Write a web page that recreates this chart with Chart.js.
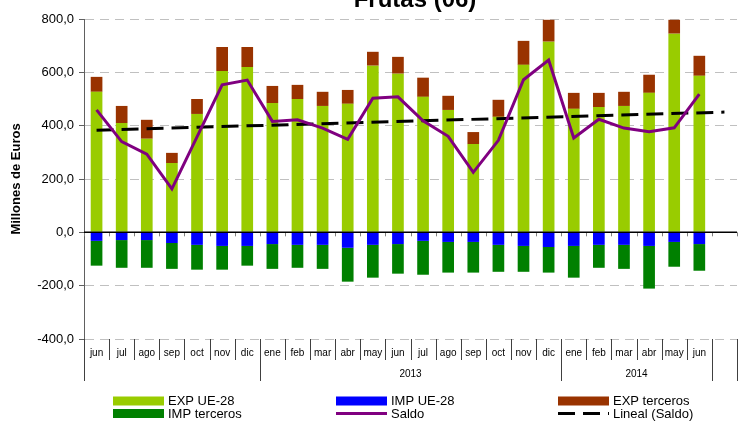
<!DOCTYPE html>
<html><head><meta charset="utf-8">
<script src="https://cdn.jsdelivr.net/npm/chart.js@4/dist/chart.umd.min.js"></script>
<style>html,body{margin:0;padding:0;background:#fff}canvas{display:block}</style>
</head><body>
<canvas id="c" width="739" height="428"></canvas>
<script>
const chartTitle = 'Frutas (06)';
const yAxisTitle = 'Millones de Euros';
const months = ['jun','jul','ago','sep','oct','nov','dic','ene','feb','mar','abr','may','jun','jul','ago','sep','oct','nov','dic','ene','feb','mar','abr','may','jun',''];
const yearOf = ['','','','','','','','2013','2013','2013','2013','2013','2013','2013','2013','2013','2013','2013','2013','2014','2014','2014','2014','2014','2014',' '];
const expUE = [527,410,351,260,444,605,620,485,500,474,482,625,595,508,459,331,433,628,715,463,470,474,523,745,587,null];
const expTerceros = [56,64,71,38,56,90,75,64,53,53,52,52,63,72,53,45,64,90,82,60,53,53,68,52,75,null];
const impUE = [-32,-29,-29,-40,-47,-51,-51,-44,-47,-47,-58,-47,-44,-32,-36,-36,-47,-51,-55,-51,-47,-47,-51,-36,-44,null];
const impTerceros = [-93,-104,-104,-97,-93,-89,-74,-93,-86,-90,-127,-123,-111,-127,-115,-115,-101,-97,-96,-119,-86,-90,-160,-93,-100,null];
const saldo = [459,340,293,163,358,553,571,416,422,391,349,503,508,418,360,225,345,572,646,354,424,391,377,392,518,null];
const trendSaldo = [383,null,null,null,null,null,null,null,null,null,null,null,null,null,null,null,null,null,null,null,null,null,null,null,null,451];
const yTicks = [-400,-200,0,200,400,600,800];

const FONT = '"Liberation Sans", Arial, sans-serif';
const C = {expUE:'#99CC00', impUE:'#0000FF', expT:'#993300', impT:'#008000', saldo:'#800080', trend:'#000000'};

const custom = {
  id: 'custom',
  afterDatasetsDraw(chart) {
    const ctx = chart.ctx, x = chart.scales.x, y = chart.scales.y, a = chart.chartArea;
    const y0 = y.getPixelForValue(0);
    const slot = x.getPixelForValue(1) - x.getPixelForValue(0);
    ctx.save();
    ctx.strokeStyle = '#808080'; ctx.lineWidth = 1;
    for (let b = 0; b <= months.length; b++) {
      const xb = Math.round(x.getPixelForValue(0) - slot/2 + b*slot) + 0.5;
      ctx.beginPath(); ctx.moveTo(xb, y0); ctx.lineTo(xb, y0 + 4); ctx.stroke();
    }
    ctx.strokeStyle = '#000'; ctx.lineWidth = 1.5;
    ctx.beginPath(); ctx.moveTo(a.left, y0); ctx.lineTo(a.right, y0); ctx.stroke();
    ctx.restore();
  },
  afterDraw(chart) {
    const ctx = chart.ctx, x = chart.scales.x, a = chart.chartArea;
    const slot = x.getPixelForValue(1) - x.getPixelForValue(0);
    const bx = b => Math.round(x.getPixelForValue(0) - slot/2 + b*slot) + 0.5;
    ctx.save();
    // title (cropped at top)
    ctx.fillStyle = '#000';
    ctx.font = 'bold 24px ' + FONT;
    ctx.textAlign = 'center'; ctx.textBaseline = 'alphabetic';
    ctx.fillText(chartTitle, 415, 7);
    // month labels
    ctx.font = '10px ' + FONT; ctx.textBaseline = 'middle';
    months.forEach((m, i) => { if (m) ctx.fillText(m, x.getPixelForValue(i), a.bottom + 14); });
    // separators
    ctx.strokeStyle = '#404040'; ctx.lineWidth = 1;
    const yearStart = new Set([0, months.length]);
    for (let i = 1; i < yearOf.length; i++) if (yearOf[i] !== yearOf[i-1]) yearStart.add(i);
    for (let b = 0; b <= months.length; b++) {
      const xb = bx(b);
      ctx.beginPath(); ctx.moveTo(xb, a.bottom); ctx.lineTo(xb, yearStart.has(b) ? a.bottom + 42 : a.bottom + 21); ctx.stroke();
    }
    // year labels
    let s = 0;
    for (let i = 1; i <= yearOf.length; i++) {
      if (i === yearOf.length || yearOf[i] !== yearOf[s]) {
        const lab = yearOf[s].trim();
        if (lab) ctx.fillText(lab, (x.getPixelForValue(s) + x.getPixelForValue(i-1)) / 2, a.bottom + 35);
        s = i;
      }
    }
    // legend
    const items = chart.data.datasets.slice().sort((p, q) => p.legendIdx - q.legendIdx);
    const colX = [113, 336, 558], rowY = [401, 413.5];
    ctx.font = '13px ' + FONT; ctx.textAlign = 'left'; ctx.textBaseline = 'middle';
    items.forEach((d, k) => {
      const cx = colX[k % 3], cy = rowY[Math.floor(k / 3)];
      if (d.type === 'line') {
        ctx.strokeStyle = d.borderColor; ctx.lineWidth = 3;
        ctx.setLineDash(d.borderDash || []);
        ctx.beginPath(); ctx.moveTo(cx, cy); ctx.lineTo(cx + 51, cy); ctx.stroke();
        ctx.setLineDash([]);
      } else {
        ctx.fillStyle = d.backgroundColor; ctx.fillRect(cx, cy - 4.5, 51, 9);
      }
      ctx.fillStyle = '#000';
      ctx.fillText(d.label, cx + 55, cy + 0.5);
    });
    ctx.restore();
  }
};

new Chart(document.getElementById('c'), {
  data: {
    labels: months,
    datasets: [
      {type:'line', label:'Saldo', data:saldo, borderColor:C.saldo, borderWidth:3, pointRadius:0, tension:0, stack:'s2', order:0, legendIdx:4},
      {type:'line', label:'Lineal (Saldo)', data:trendSaldo, borderColor:C.trend, borderWidth:3, borderDash:[17,8], pointRadius:0, spanGaps:true, stack:'s3', order:1, legendIdx:5},
      {type:'bar', label:'EXP UE-28', data:expUE, backgroundColor:C.expUE, stack:'s1', order:2, legendIdx:0},
      {type:'bar', label:'IMP UE-28', data:impUE, backgroundColor:C.impUE, stack:'s1', order:2, legendIdx:1},
      {type:'bar', label:'EXP terceros', data:expTerceros, backgroundColor:C.expT, stack:'s1', order:2, legendIdx:2},
      {type:'bar', label:'IMP terceros', data:impTerceros, backgroundColor:C.impT, stack:'s1', order:2, legendIdx:3}
    ]
  },
  options: {
    responsive:false, devicePixelRatio:1, animation:false,
    layout:{padding:{left:0, top:19, right:2, bottom:89}},
    datasets:{bar:{categoryPercentage:1, barPercentage:0.465}},
    plugins:{legend:{display:false}, tooltip:{enabled:false}, title:{display:false}},
    scales:{
      x:{display:false, stacked:true},
      y:{
        stacked:true, min:-400, max:800,
        afterBuildTicks: s => { s.ticks = yTicks.map(v => ({value:v})); },
        afterFit: s => { s.width = 84; },
        ticks:{color:'#000', font:{family:FONT, size:13}, padding:5,
          callback: v => v.toFixed(1).replace('.', ',')},
        grid:{color:'#c0c0c0', lineWidth:1, drawTicks:true, tickLength:5, tickColor:'#606060'},
        border:{display:true, color:'#606060', width:1, dash:[9,6]},
        title:{display:true, text:yAxisTitle, color:'#000', font:{family:FONT, size:13, weight:'bold'}, padding:{top:9, bottom:0}}
      }
    }
  },
  plugins:[custom]
});
</script>
</body></html>
